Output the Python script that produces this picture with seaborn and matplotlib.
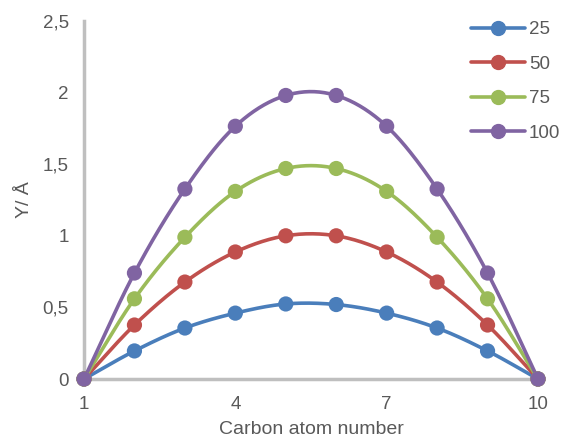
import numpy as np
import pandas as pd
import matplotlib
matplotlib.use("Agg")
import matplotlib.pyplot as plt
import seaborn as sns
from matplotlib.lines import Line2D

carbon = [1, 2, 3, 4, 5, 6, 7, 8, 9, 10]
s25 = [0, 0.196, 0.356, 0.46, 0.524, 0.52, 0.46, 0.356, 0.196, 0]
s50 = [0, 0.377, 0.677, 0.887, 1.0, 1.0, 0.887, 0.677, 0.377, 0]
s75 = [0, 0.56, 0.99, 1.31, 1.47, 1.47, 1.31, 0.99, 0.56, 0]
s100 = [0, 0.74, 1.327, 1.765, 1.98, 1.98, 1.765, 1.327, 0.74, 0]
series_names = ["25", "50", "75", "100"]
series_vals = [s25, s50, s75, s100]
colors = ["#4A7EBB", "#C0504D", "#9BBB59", "#8064A2"]
x_ticks = [1, 4, 7, 10]
y_ticks = [0, 0.5, 1, 1.5, 2, 2.5]
y_tick_labels = ["0", "0,5", "1", "1,5", "2", "2,5"]

sns.set_theme(style="white")
plt.rcParams["font.family"] = ["Liberation Sans", "DejaVu Sans"]


def smooth(x, y, n=30):
    x = np.asarray(x, float)
    y = np.asarray(y, float)
    px = np.concatenate([[2 * x[0] - x[1]], x, [2 * x[-1] - x[-2]]])
    py = np.concatenate([[2 * y[0] - y[1]], y, [2 * y[-1] - y[-2]]])
    xs, ys = [], []
    for i in range(1, len(px) - 2):
        t = np.linspace(0, 1, n, endpoint=False)
        for p, out in ((px, xs), (py, ys)):
            p0, p1, p2, p3 = p[i - 1], p[i], p[i + 1], p[i + 2]
            out.append(0.5 * ((2 * p1) + (-p0 + p2) * t
                              + (2 * p0 - 5 * p1 + 4 * p2 - p3) * t ** 2
                              + (-p0 + 3 * p1 - 3 * p2 + p3) * t ** 3))
    xs.append([x[-1]])
    ys.append([y[-1]])
    return np.concatenate(xs), np.concatenate(ys)


fig = plt.figure(figsize=(5.63, 4.41), dpi=100)
ax = fig.add_axes([84 / 563, 62 / 441, (538 - 84) / 563, (379 - 21) / 441])

rows = []
pts = []
for name, vals in zip(series_names, series_vals):
    sx, sy = smooth(carbon, vals)
    rows.append(pd.DataFrame({"x": sx, "y": sy, "series": name}))
    pts.append(pd.DataFrame({"x": carbon, "y": vals, "series": name}))
line_df = pd.concat(rows, ignore_index=True)
pt_df = pd.concat(pts, ignore_index=True)
palette = dict(zip(series_names, colors))

sns.lineplot(data=line_df, x="x", y="y", hue="series", palette=palette,
             linewidth=2.6, legend=False, ax=ax, sort=False, estimator=None)
sns.scatterplot(data=pt_df, x="x", y="y", hue="series", palette=palette,
                s=120, edgecolor="none", legend=False, ax=ax, zorder=5,
                clip_on=False)
for c in ax.collections:
    c.set_clip_on(False)
for l in ax.lines:
    l.set_clip_on(False)

ax.set_xlim(1, 10)
ax.set_ylim(0, 2.5)
ax.set_xticks(x_ticks)
ax.set_yticks(y_ticks)
ax.set_yticklabels(y_tick_labels)
ax.tick_params(axis="both", length=0, labelsize=13.5, colors="#595959")
ax.tick_params(axis="y", pad=11)
ax.tick_params(axis="x", pad=12)
ax.set_xlabel("Carbon atom number", fontsize=14, color="#595959", labelpad=6)
ax.set_ylabel("Y/ Å", fontsize=14, color="#595959", labelpad=7)
for side in ["top", "right"]:
    ax.spines[side].set_visible(False)
for side in ["left", "bottom"]:
    ax.spines[side].set_color("#BFBFBF")
    ax.spines[side].set_linewidth(2.5)
    ax.spines[side].set_zorder(0)

handles = [Line2D([0], [0], color=c, lw=2.6, marker="o", markersize=10)
           for c in colors]
fig.legend(handles, series_names, loc="upper left",
           bbox_to_anchor=(471 / 563, 1 - 21 / 441), frameon=False,
           fontsize=13.5, labelcolor="#595959", handlelength=2.88,
           handletextpad=0.2, labelspacing=0.93, borderpad=0,
           borderaxespad=0)

fig.savefig("out.png", dpi=100)
